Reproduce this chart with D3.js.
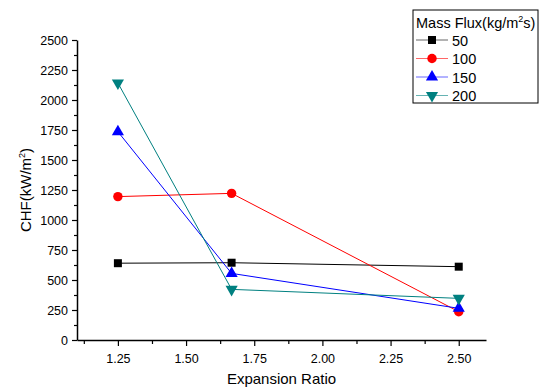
<!DOCTYPE html>
<html>
<head>
<meta charset="utf-8">
<script src="https://cdn.jsdelivr.net/npm/d3@7"></script>
<style>
body { margin: 0; background: #fff; }
svg text { font-family: "Liberation Sans", Arial, sans-serif; }
</style>
</head>
<body>
<div id="chart"></div>
<script>
var svgWidth = 543;
var svgHeight = 390;

// data
var ratios = [1.25, 1.667, 2.5];
var fluxes = ["50", "100", "150", "200"];
var chf50 = [640, 644, 611];
var chf100 = [1195, 1222, 236];
var chf150 = [1736, 555, 264];
var chf200 = [2142, 422, 347];
var xTicks = [1.25, 1.5, 1.75, 2.0, 2.25, 2.5];
var yTicks = [0, 250, 500, 750, 1000, 1250, 1500, 1750, 2000, 2250, 2500];

var series = [
    {name: fluxes[0], values: chf50, color: "#000000", symbol: d3.symbolSquare},
    {name: fluxes[1], values: chf100, color: "#ff0000", symbol: d3.symbolCircle},
    {name: fluxes[2], values: chf150, color: "#0000ff", symbol: d3.symbolTriangle},
    {name: fluxes[3], values: chf200, color: "#008080", symbol: "down"}
];

var margin = {top: 40, right: 57, bottom: 50, left: 77};
var width = svgWidth - margin.left - margin.right;
var height = svgHeight - margin.top - margin.bottom;

var svg = d3.select("#chart")
    .append("svg")
    .attr("width", svgWidth)
    .attr("height", svgHeight);

var chartGroup = svg.append("g")
    .attr("transform", `translate(${margin.left},${margin.top})`);

var xScale = d3.scaleLinear()
    .domain([1.1, 2.6])
    .range([0, width]);

var yScale = d3.scaleLinear()
    .domain([0, 2500])
    .range([height, 0]);

// minor ticks
var xMinor = d3.range(1.125, 2.6, 0.25);
var yMinor = d3.range(125, 2500, 250);

chartGroup.append("g")
    .attr("transform", `translate(0,${height})`)
    .call(d3.axisBottom(xScale).tickValues(xMinor).tickSize(4).tickFormat(""))
    .call(g => g.select(".domain").remove());

chartGroup.append("g")
    .call(d3.axisLeft(yScale).tickValues(yMinor).tickSize(3).tickFormat(""))
    .call(g => g.select(".domain").remove());

var xAxis = chartGroup.append("g")
    .attr("transform", `translate(0,${height})`)
    .call(d3.axisBottom(xScale).tickValues(xTicks).tickSize(6).tickSizeOuter(0).tickPadding(8)
        .tickFormat(d3.format(".2f")));

var yAxis = chartGroup.append("g")
    .call(d3.axisLeft(yScale).tickValues(yTicks).tickSize(5).tickSizeOuter(0).tickPadding(4)
        .tickFormat(d3.format("d")));

chartGroup.selectAll(".domain").attr("stroke-width", 1.5);
chartGroup.selectAll(".tick line").attr("stroke-width", 1.2);
chartGroup.selectAll(".tick text")
    .attr("font-size", 12.5)
    .attr("fill", "#000")
    .style("font-family", "'Liberation Sans', Arial, sans-serif");

// axis titles
svg.append("text")
    .attr("x", margin.left + xScale(1.85))
    .attr("y", 384)
    .attr("text-anchor", "middle")
    .attr("font-size", 15)
    .text("Expansion Ratio");

var yTitle = svg.append("text")
    .attr("transform", `translate(31,${margin.top + height / 2}) rotate(-90)`)
    .attr("text-anchor", "middle")
    .attr("font-size", 15);
yTitle.append("tspan").text("CHF(kW/m");
yTitle.append("tspan").attr("dy", -6).attr("font-size", 9).text("2");
yTitle.append("tspan").attr("dy", 6).text(")");

function symbolPath(sym, size) {
    if (sym === "down") {
        return d3.symbol().type(d3.symbolTriangle).size(size)();
    }
    return d3.symbol().type(sym).size(size)();
}

var line = d3.line()
    .x((d, i) => xScale(ratios[i]))
    .y(d => yScale(d));

series.forEach(function(s) {
    chartGroup.append("path")
        .datum(s.values)
        .attr("fill", "none")
        .attr("stroke", s.color)
        .attr("stroke-width", 1)
        .attr("d", line);
});

series.forEach(function(s) {
    chartGroup.selectAll(null)
        .data(s.values)
        .enter()
        .append("path")
        .attr("d", symbolPath(s.symbol, s.symbol === d3.symbolCircle ? 70 : 64))
        .attr("transform", (d, i) => `translate(${xScale(ratios[i])},${yScale(d)})` + (s.symbol === "down" ? " rotate(180)" : ""))
        .attr("fill", s.color);
});

// legend
var legend = svg.append("g").attr("transform", "translate(413,10)");
legend.append("rect")
    .attr("width", 125)
    .attr("height", 93)
    .attr("fill", "#fff")
    .attr("stroke", "#000")
    .attr("stroke-width", 1);

var lt = legend.append("text")
    .attr("x", 3)
    .attr("y", 18)
    .attr("font-size", 14.5);
lt.append("tspan").text("Mass Flux(kg/m");
lt.append("tspan").attr("dy", -6).attr("font-size", 9).text("2");
lt.append("tspan").attr("dy", 6).text("s)");

series.forEach(function(s, i) {
    var ry = 30 + i * 18.5;
    var row = legend.append("g").attr("transform", `translate(0,${ry})`);
    row.append("line")
        .attr("x1", 3).attr("x2", 35)
        .attr("stroke", s.color)
        .attr("stroke-opacity", 0.6)
        .attr("stroke-width", 1);
    row.append("path")
        .attr("d", symbolPath(s.symbol, s.symbol === d3.symbolCircle ? 70 : 64))
        .attr("transform", "translate(19,0)" + (s.symbol === "down" ? " rotate(180)" : ""))
        .attr("fill", s.color);
    row.append("text")
        .attr("x", 39)
        .attr("y", 5.5)
        .attr("font-size", 14.5)
        .text(s.name);
});
</script>
</body>
</html>
